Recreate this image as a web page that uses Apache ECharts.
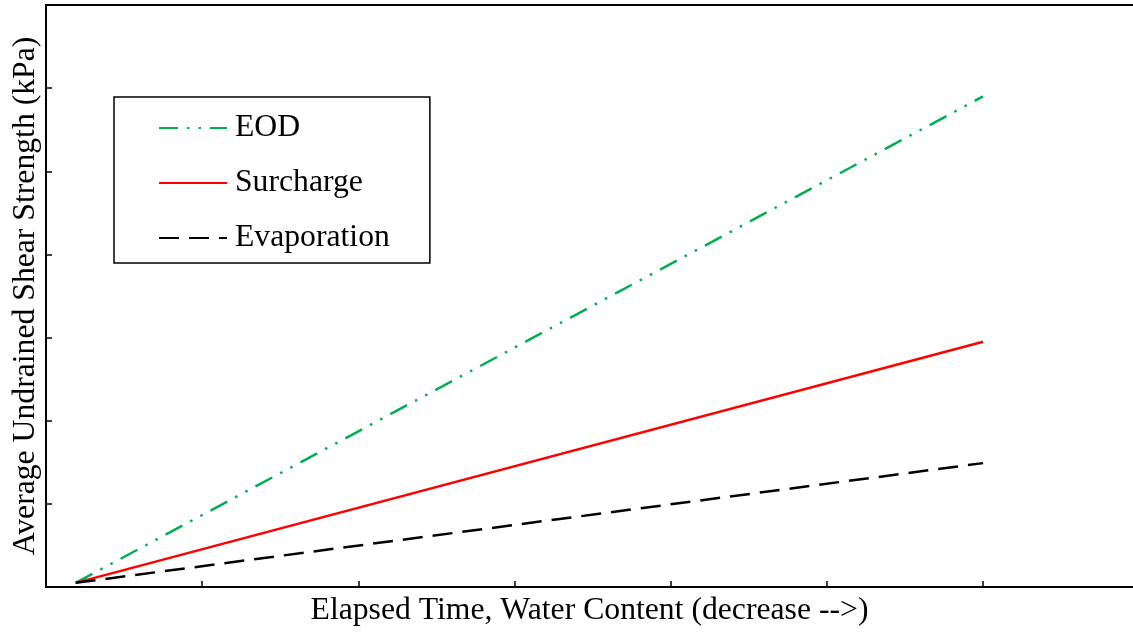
<!DOCTYPE html>
<html>
<head>
<meta charset="utf-8">
<script src="https://cdn.jsdelivr.net/npm/echarts@6/dist/echarts.min.js"></script>
<style>html,body{margin:0;padding:0;background:#fff;}#c{width:1133px;height:633px;}</style>
</head>
<body>
<div id="c"></div>
<script>
var seriesNames = ['EOD', 'Surcharge', 'Evaporation'];
var xValues = [0.19, 6.0];
var eodValues = [0.05, 5.9];
var surchargeValues = [0.05, 2.95];
var evaporationValues = [0.05, 1.49];
var xTicks = [1, 2, 3, 4, 5, 6];
var xTitle = 'Elapsed Time, Water Content (decrease -->)';
var yTitle = 'Average Undrained Shear Strength (kPa)';

function pairs(xs, ys) { return xs.map(function (x, i) { return [x, ys[i]]; }); }
var FONT = '"Liberation Serif", "Times New Roman", serif';
var FS = 31.7;
var chart = echarts.init(document.getElementById('c'));
chart.setOption({
  animation: false,
  backgroundColor: '#fff',
  grid: { left: 46, top: 5, right: 0, bottom: 46 },
  xAxis: [{
    type: 'value', min: 0, max: 6.96, interval: 1,
    name: xTitle, nameLocation: 'middle', nameGap: 8,
    nameTextStyle: { fontFamily: FONT, fontSize: FS, color: '#000' },
    axisLine: { show: true, lineStyle: { color: '#000', width: 2 } },
    axisTick: { show: true, inside: true, length: 6, customValues: xTicks, lineStyle: { color: '#000', width: 1.5 } },
    axisLabel: { show: false },
    splitLine: { show: false }
  }, {
    type: 'value', position: 'top', min: 0, max: 6.96, interval: 1,
    axisLine: { show: true, onZero: false, lineStyle: { color: '#000', width: 2 } },
    axisTick: { show: false },
    axisLabel: { show: false },
    splitLine: { show: false }
  }],
  yAxis: {
    type: 'value', min: 0, max: 7, interval: 1,
    name: yTitle, nameLocation: 'middle', nameGap: 4,
    nameTextStyle: { fontFamily: FONT, fontSize: FS, color: '#000' },
    axisLine: { show: true, lineStyle: { color: '#000', width: 2 } },
    axisTick: { show: true, inside: true, length: 6, lineStyle: { color: '#000', width: 1.5 } },
    axisLabel: { show: false },
    splitLine: { show: false }
  },
  legend: {
    left: 114, top: 97, orient: 'vertical',
    data: seriesNames,
    backgroundColor: '#fff',
    borderColor: '#000', borderWidth: 1.5, borderRadius: 0,
    padding: [15, 40, 9, 44],
    itemWidth: 68, itemHeight: 20, itemGap: 23,
    itemStyle: { opacity: 0 },
    textStyle: { fontFamily: FONT, fontSize: FS, color: '#000', lineHeight: 32, padding: [0, 0, 0, 3] }
  },
  series: [
    { name: seriesNames[0], type: 'line', data: pairs(xValues, eodValues), symbol: 'none',
      lineStyle: { color: '#00b050', width: 2.5, type: [19, 9, 2.5, 9, 2.5, 9], cap: 'butt' }, itemStyle: { color: '#00b050', opacity: 0 } },
    { name: seriesNames[1], type: 'line', data: pairs(xValues, surchargeValues), symbol: 'none',
      lineStyle: { color: '#ff0000', width: 2.5, type: 'solid' }, itemStyle: { color: '#ff0000', opacity: 0 } },
    { name: seriesNames[2], type: 'line', data: pairs(xValues, evaporationValues), symbol: 'none',
      lineStyle: { color: '#000', width: 2.5, type: [20, 10], cap: 'butt' }, itemStyle: { color: '#000', opacity: 0 } }
  ]
});
</script>
</body>
</html>
